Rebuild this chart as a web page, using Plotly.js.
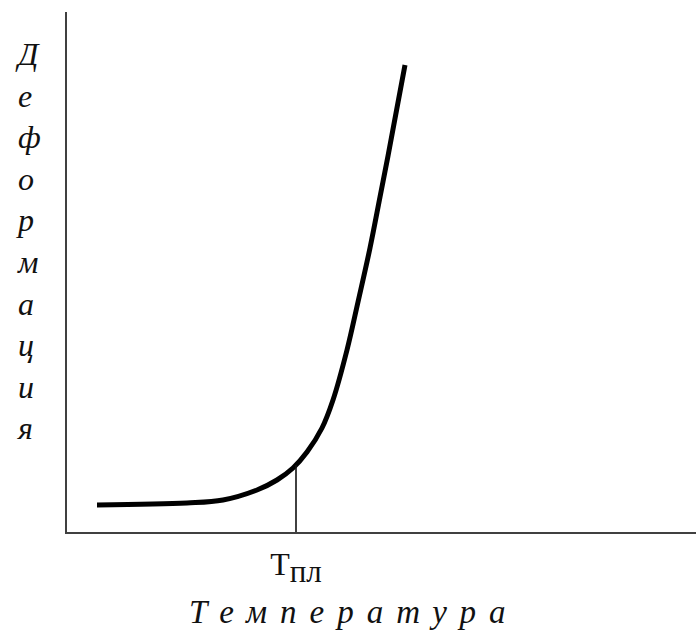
<!DOCTYPE html>
<html>
<head>
<meta charset="utf-8">
<script src="https://cdn.plot.ly/plotly-3.0.1.min.js"></script>
<style>html,body{margin:0;padding:0;background:#fff;}</style>
</head>
<body>
<div id="chart" style="width:696px;height:630px;"></div>
<script>
// Curve: deformation vs temperature (arbitrary units)
const temperature = [30, 120, 156, 190, 210, 226, 240, 255, 266, 280, 291, 303, 313, 321, 338];
const deformation = [27, 29, 32, 42, 52, 64, 80, 104, 132, 182, 230, 284, 335, 376, 467];
// Melting point marker
const meltX = [229, 229];
const meltY = [0, 67];
const tickVals = [229];
const tickText = ['Т<sub><span style="font-size:31px">пл</span></sub>'];
const yLabel = 'Деформация';
const xLabel = 'Температура';

const serif = 'Liberation Serif, Times New Roman, serif';

const data = [
  {x: temperature, y: deformation, mode: 'lines', type: 'scatter',
   line: {color: '#000', width: 5, shape: 'spline', smoothing: 1}, hoverinfo: 'skip'},
  {x: meltX, y: meltY, mode: 'lines', type: 'scatter',
   line: {color: '#111', width: 1.6}, hoverinfo: 'skip'}
];

const layout = {
  width: 696, height: 630,
  margin: {l: 67, r: 0, t: 12, b: 98},
  paper_bgcolor: '#fff', plot_bgcolor: '#fff',
  showlegend: false,
  xaxis: {range: [0, 629], showline: true, linecolor: '#404040', linewidth: 2,
    showgrid: false, zeroline: false, ticks: '', tickvals: tickVals, ticktext: tickText,
    tickfont: {family: serif, size: 32, color: '#111'}, ticklabelstandoff: 3, fixedrange: true},
  yaxis: {range: [0, 520], showline: true, linecolor: '#404040', linewidth: 2,
    showgrid: false, zeroline: false, showticklabels: false, ticks: '', fixedrange: true},
  annotations: [
    {text: yLabel.split('').join('<br>'), xref: 'paper', yref: 'paper',
     x: (13 - 67) / 629, y: (532 - 241) / 520, xanchor: 'left', yanchor: 'middle', align: 'left',
     showarrow: false, font: {family: serif, size: 32, style: 'italic', color: '#111'}},
    {text: '<span style="letter-spacing:13px">' + xLabel + '</span>', xref: 'paper', yref: 'paper',
     x: (353 - 67) / 629, y: (532 - 612) / 520, xanchor: 'center', yanchor: 'middle',
     showarrow: false, font: {family: serif, size: 33, style: 'italic', color: '#111'}}
  ]
};

Plotly.newPlot('chart', data, layout, {displayModeBar: false, staticPlot: true});
</script>
</body>
</html>
